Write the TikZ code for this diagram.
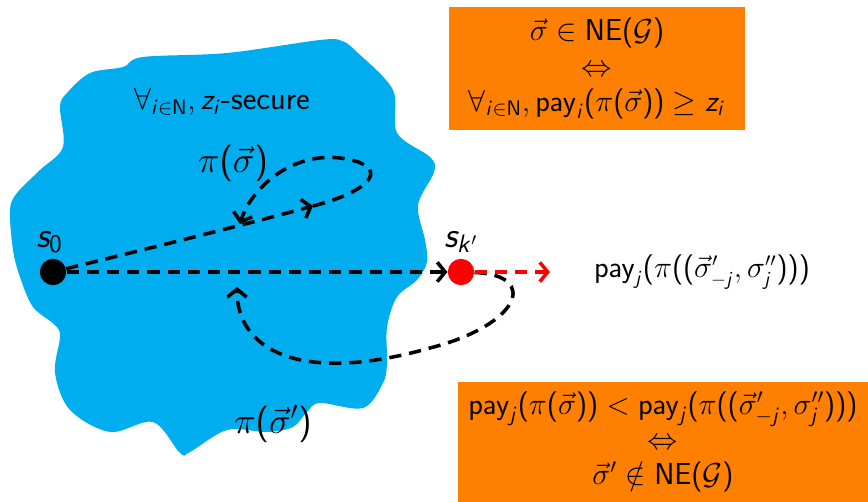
\documentclass[tikz,border=0pt]{standalone}
\usepackage{amsmath}
\usetikzlibrary{arrows.meta, positioning}
% beamer-like math: latin letters and digits in sans
\DeclareSymbolFont{sfslanted}{OT1}{cmss}{m}{sl}
\SetSymbolFont{operators}{normal}{OT1}{cmss}{m}{n}
\DeclareMathSymbol{s}{\mathalpha}{sfslanted}{`s}
\DeclareMathSymbol{z}{\mathalpha}{sfslanted}{`z}
\DeclareMathSymbol{i}{\mathalpha}{sfslanted}{`i}
\DeclareMathSymbol{j}{\mathalpha}{sfslanted}{`j}
\DeclareMathSymbol{k}{\mathalpha}{sfslanted}{`k}
\definecolor{blobblue}{RGB}{0,174,239}
\definecolor{boxorange}{RGB}{255,128,0}
\tikzset{
    base/.style = {inner sep=1pt, font=\sffamily},
    % Components
    region/.style   = {fill=blobblue},
    statedot/.style = {circle, inner sep=0pt, minimum size=15pt, fill=black},
    baddot/.style   = {statedot, fill=red},
    statelab/.style = {base, font=\sffamily\fontsize{20}{24}\selectfont},
    runlab/.style   = {base, font=\sffamily\fontsize{20}{24}\selectfont},
    note/.style     = {base, font=\sffamily\fontsize{18.5}{22}\selectfont},
    claim/.style    = {base, rectangle, fill=boxorange, align=center,
                       font=\sffamily\fontsize{16.5}{20}\selectfont},
    % Edges
    run/.style = {line width=2pt, dash pattern=on 7pt off 4.5pt,
                  -{Straight Barb[length=4.5pt,width=11pt]}},
    deviation/.style = {run, red}
}

\begin{document}
\begin{tikzpicture}[x=0.02cm, y=-0.02cm]
    \useasboundingbox (0,0) rectangle (868,502);

    % secure region
    \fill[region] plot[smooth cycle, tension=0.55] coordinates {
        (320,40) (342,41) (358,53) (393,90) (397,133) (430,157) (434,172) (418,205)
        (425,240) (427,262) (417,280) (397,297) (387,327) (387,363) (383,383)
        (363,408) (320,403) (307,412) (293,427) (267,432) (227,430) (190,452)
        (180,453) (153,422) (110,432) (70,410) (55,373) (60,337) (55,325)
        (33,307) (20,277) (13,250) (10,210) (17,193) (40,170) (63,147)
        (60,107) (67,93) (90,73) (123,67) (143,57) (227,53)};

    \node (secure) [note] at (222,102) {$\forall_{i\in\mathrm{N}}, z_i$-secure};

    \node (s0) [statedot] at (53,272) {};
    \node (sk) [baddot] at (461,272) {};
    \node (s0lab) [statelab, above=2pt of s0, xshift=-2pt] {$s_0$};
    \node (sklab) [statelab, above=2pt of sk] {$s_{k'}$};

    \node (payoff) [base, font=\sffamily\fontsize{16}{19}\selectfont] at (702,272)
        {$\mathrm{pay}_j(\pi((\vec{\sigma}'_{-j},\sigma''_j)))$};

    \node (pi1) [runlab] at (233,163) {$\pi(\vec{\sigma})$};
    \node (pi2) [runlab] at (273,424) {$\pi(\vec{\sigma}')$};

    \node (nash) [claim, minimum width=5.92cm, minimum height=2.46cm] at (597,68.5)
        {$\vec{\sigma}\in\mathrm{NE}(\mathcal{G})$\\ $\Leftrightarrow$\\
         $\forall_{i\in\mathrm{N}}, \mathrm{pay}_i(\pi(\vec{\sigma}))\geq z_i$};
    \node (notnash) [claim, minimum width=8.2cm, minimum height=2.4cm] at (663,442)
        {$\mathrm{pay}_j(\pi(\vec{\sigma}))<\mathrm{pay}_j(\pi((\vec{\sigma}'_{-j},\sigma''_j)))$\\
         $\Leftrightarrow$\\ $\vec{\sigma}'\notin\mathrm{NE}(\mathcal{G})$};

    \coordinate (loopin) at (313,206);
    \coordinate (loopend) at (240,224);
    \coordinate (redend) at (550,272);
    \coordinate (backend) at (237,287);

    \draw [run] (s0) .. controls (150,248) and (240,226) .. (loopin);
    \draw [run] (loopin) .. controls (375,190) and (392,165) .. (340,158)
                         .. controls (290,152) and (250,190) .. (loopend);
    \draw [run] (sk) .. controls (540,275) and (520,325) .. (430,348)
                     .. controls (300,385) and (237,350) .. (backend);
    \draw [run] (s0) -- (sk);
    \draw [deviation] (sk) -- (redend);
\end{tikzpicture}
\end{document}
